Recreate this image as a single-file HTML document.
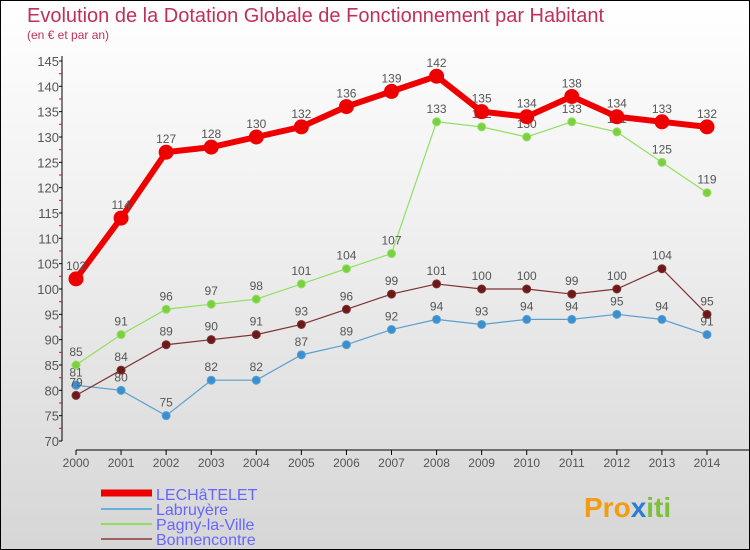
<!DOCTYPE html>
<html><head><meta charset="utf-8"><style>
body{margin:0}
#c{position:relative;width:748px;height:548px;border:1px solid #000;background:linear-gradient(#fff 0%,#f0f0f0 40%,#d6d6d6 100%);font-family:"Liberation Sans",sans-serif;overflow:hidden}
</style></head><body>
<div id="c">
<svg id="s" width="748" height="548" style="position:absolute;left:0;top:0">
<text x="26" y="21" font-size="20" fill="#c0305a">Evolution de la Dotation Globale de Fonctionnement par Habitant</text>
<text x="26" y="38" font-size="12" fill="#c0305a">(en € et par an)</text>
<g id="axes"></g><g id="series"></g>
<g>
<line x1="100" y1="492" x2="151" y2="492" stroke="#e00" stroke-width="7"/>
<text x="155" y="499" font-size="16" fill="#66f">LECHâTELET</text>
<line x1="100" y1="508" x2="151" y2="508" stroke="#6ab0dd" stroke-width="2"/>
<text x="155" y="514" font-size="16" fill="#66f">Labruyère</text>
<line x1="100" y1="523" x2="151" y2="523" stroke="#8fe060" stroke-width="2"/>
<text x="155" y="529" font-size="16" fill="#66f">Pagny-la-Ville</text>
<line x1="100" y1="538" x2="151" y2="538" stroke="#a06060" stroke-width="2"/>
<text x="155" y="544" font-size="16" fill="#66f">Bonnencontre</text>
</g>
<text x="583" y="516" font-size="28" font-weight="bold" fill="#f39c12">Pro<tspan fill="#2a7fd4">x</tspan><tspan fill="#7cc13a">iti</tspan></text>
</svg>
</div>
<script>
const years=[2000,2001,2002,2003,2004,2005,2006,2007,2008,2009,2010,2011,2012,2013,2014];
const lechatelet=[102,114,127,128,130,132,136,139,142,135,134,138,134,133,132];
const labruyere=[81,80,75,82,82,87,89,92,94,93,94,94,95,94,91];
const pagny=[85,91,96,97,98,101,104,107,133,132,130,133,131,125,119];
const bonnencontre=[79,84,89,90,91,93,96,99,101,100,100,99,100,104,95];
const yTicks=[70,75,80,85,90,95,100,105,110,115,120,125,130,135,140,145];
const NS="http://www.w3.org/2000/svg";
const X=i=>75+i*(706-75)/14;
const Y=v=>440-(v-70)*(380/75);
function mk(t,a,p){const e=document.createElementNS(NS,t);for(const k in a)e.setAttribute(k,a[k]);p.appendChild(e);return e;}
const ax=document.getElementById('axes');
const yl=mk('line',{x1:61,y1:55,x2:61,y2:440,stroke:'#000'},ax);


yTicks.forEach(v=>{
 mk('line',{x1:58,x2:61,y1:Y(v),y2:Y(v),stroke:'#000'},ax);
 if(v<145)mk('line',{x1:58,x2:61,y1:Y(v+2.5),y2:Y(v+2.5),stroke:'#f00'},ax);
 const t=mk('text',{x:58,y:Y(v)+5,'font-size':13,'text-anchor':'end',fill:'#555'},ax);t.textContent=v;
 
 
});
const xl=mk('line',{x1:75,y1:449,x2:748,y2:449,stroke:'#000'},ax);


years.forEach((y,i)=>{
 mk('line',{x1:X(i),x2:X(i),y1:449,y2:454,stroke:'#000'},ax);
 const t=mk('text',{x:X(i),y:466,'font-size':12,'text-anchor':'middle',fill:'#555'},ax);t.textContent=y;
 
 
});
const sg=document.getElementById('series');
function draw(data,name,col,dot,w,r){
 const g=mk('g',{},sg);
 
 
 mk('polyline',{points:data.map((v,i)=>X(i)+','+Y(v)).join(' '),fill:'none',stroke:col,'stroke-width':w},g);
 data.forEach((v,i)=>{
  const c=mk('circle',{cx:X(i),cy:Y(v),r:r,fill:dot,stroke:col,'stroke-width':1},g);
  
  
  const t=mk('text',{x:X(i),y:Y(v)-9,'font-size':12,'text-anchor':'middle',fill:'#555'},g);t.textContent=v;
  
  
 });
}
draw(labruyere,'labruyere','#5a9fd0','#3a8fd0',1.2,4);
draw(pagny,'pagny','#8fe060','#7cd040',1.2,4);
draw(bonnencontre,'bonnencontre','#803030','#6a1a1a',1.2,4);
draw(lechatelet,'lechatelet','#e00','#e00',6,7);
</script>
</body></html>
